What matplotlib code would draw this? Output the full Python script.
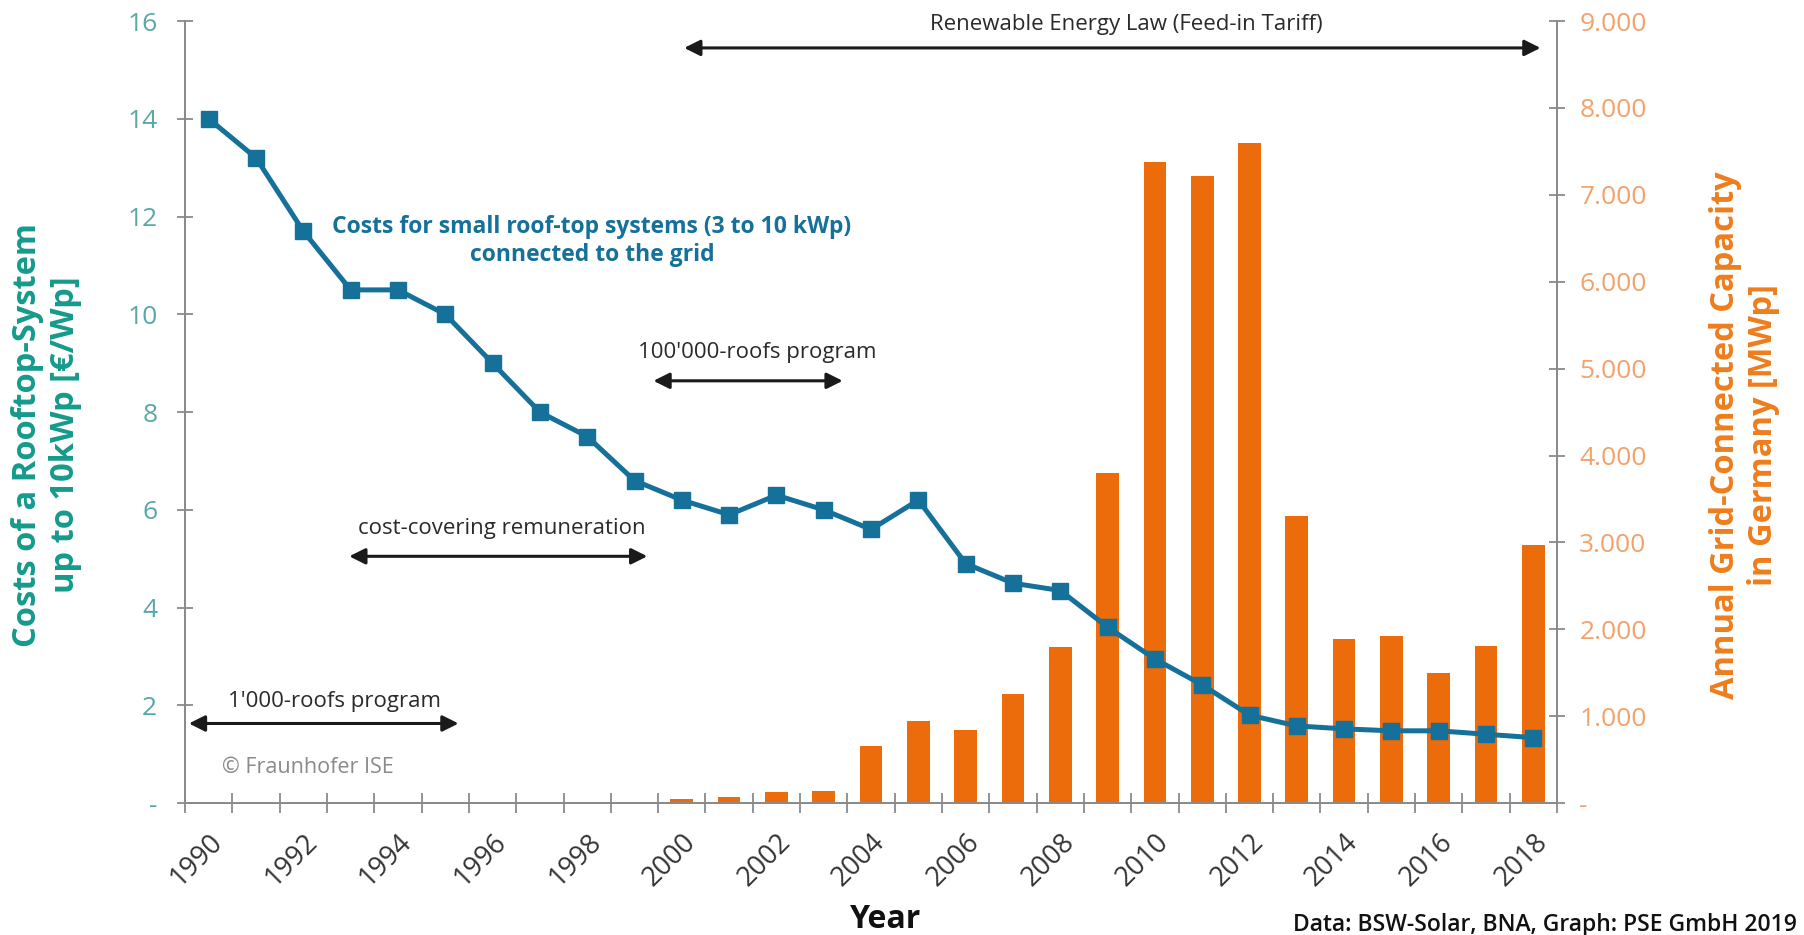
import numpy as np
import matplotlib
matplotlib.use("Agg")
import matplotlib.pyplot as plt
from matplotlib.ticker import FixedLocator, FuncFormatter

plt.rcParams['font.family'] = ['Open Sans', 'DejaVu Sans']

# data
years = list(range(1990, 2019))
cost_eur_wp = [14.0, 13.2, 11.7, 10.5, 10.5, 10.0, 9.0, 8.0, 7.5, 6.6,
               6.2, 5.9, 6.3, 6.0, 5.6, 6.2, 4.9, 4.5, 4.35, 3.6,
               2.95, 2.42, 1.8, 1.58, 1.52, 1.48, 1.48, 1.41, 1.34]
capacity_mw = [2, 2, 3, 4, 5, 6, 8, 10, 10, 12,
               45, 75, 125, 140, 660, 950, 840, 1260, 1800, 3800,
               7380, 7220, 7600, 3310, 1890, 1920, 1500, 1810, 2970]
year_labels = [str(y) for y in years[::2]]

line_col = '#15709a'
bar_col = '#ec6b0b'
spine_col = '#8a8a8a'

fig = plt.figure(figsize=(18.04, 9.35), dpi=100)
ax = fig.add_axes([0.1026, 0.141, 0.7605, 0.8365])
ax2 = ax.twinx()

x = np.arange(len(years))

# bars on the right axis, line on top
ax2.bar(x, capacity_mw, width=0.48, color=bar_col, zorder=2)
ax.plot(x, cost_eur_wp, color=line_col, lw=3.6, marker='s', markersize=12, zorder=3)
ax.set_zorder(ax2.get_zorder() + 1)
ax.patch.set_visible(False)

ax.set_xlim(-0.5, len(years) - 0.5)
ax.set_ylim(0, 16)
ax2.set_ylim(0, 9000)

# spines
for a in (ax, ax2):
    a.spines['top'].set_visible(False)
    for s in ('left', 'right', 'bottom'):
        a.spines[s].set_color(spine_col)
        a.spines[s].set_linewidth(1.3)

# left axis ticks
ax.yaxis.set_major_locator(FixedLocator(np.arange(0, 17, 2)))
ax.yaxis.set_major_formatter(FuncFormatter(lambda v, p: '-' if v == 0 else f'{v:.0f}'))
ax.tick_params(axis='y', direction='inout', length=12, width=1.3, color=spine_col,
               labelsize=19, labelcolor='#5aa7a8', pad=14)

# right axis ticks
ax2.yaxis.set_major_locator(FixedLocator(np.arange(0, 9001, 1000)))
ax2.yaxis.set_major_formatter(FuncFormatter(
    lambda v, p: '-' if v == 0 else f'{v:,.0f}'.replace(',', '.')))
ax2.tick_params(axis='y', direction='inout', length=12, width=1.3, color=spine_col,
                labelsize=19, labelcolor='#f2a26a', pad=10)

# x ticks: marks on year boundaries, labels every second year
ax.set_xticks(x[::2])
ax.set_xticklabels(year_labels, rotation=45, ha='right', va='top', rotation_mode='anchor')
ax.set_xticks(np.arange(-0.5, len(years), 1), minor=True)
ax.tick_params(axis='x', which='major', length=0, labelsize=19.5, labelcolor='#333333', pad=18)
ax.tick_params(axis='x', which='minor', direction='inout', length=14, width=1.3, color=spine_col)
ax2.tick_params(axis='x', length=0)

# axis labels
fig.text(0.026, 0.535, 'Costs of a Rooftop-System\nup to 10kWp [€/Wp]', rotation=90,
         ha='center', va='center', fontsize=23.5, fontweight='bold', color='#159a8c',
         linespacing=1.2)
fig.text(0.967, 0.535, 'Annual Grid-Connected Capacity\nin Germany [MWp]', rotation=90,
         ha='center', va='center', fontsize=23.5, fontweight='bold', color='#ee7d1c',
         linespacing=1.2)
fig.text(0.491, 0.008, 'Year', ha='center', va='baseline', fontsize=23, fontweight='bold',
         color='#111111')
fig.text(0.996, 0.004, 'Data: BSW-Solar, BNA, Graph: PSE GmbH 2019', ha='right',
         va='baseline', fontsize=16.5, fontweight='semibold', color='#111111')

# annotations with double arrows
arrow = dict(arrowstyle='<|-|>', color='#1a1a1a', lw=2.2, mutation_scale=24,
             shrinkA=0, shrinkB=0)
programs = [
    ('Renewable Energy Law (Feed-in Tariff)', 10.05, 28.15, 15.45, 19.4, 15.93),
    ("100'000-roofs program", 9.4, 13.4, 8.64, 11.6, 9.22),
    ('cost-covering remuneration', 2.97, 9.27, 5.05, 6.2, 5.62),
    ("1'000-roofs program", -0.42, 5.28, 1.63, 2.66, 2.07),
]
for label, x0, x1, ya, xt, yt in programs:
    ax.annotate('', xy=(x1, ya), xytext=(x0, ya), arrowprops=arrow)
    ax.text(xt, yt, label, ha='center', va='center', fontsize=16, color='#2a2a2a')

ax.text(8.1, 11.5, 'Costs for small roof-top systems (3 to 10 kWp)\nconnected to the grid',
        ha='center', va='center', fontsize=16.5, fontweight='bold', color=line_col,
        linespacing=1.2)
ax.text(0.27, 0.73, '© Fraunhofer ISE', ha='left', va='center', fontsize=15.5,
        color='#8a8a8a')

fig.savefig('out.png', dpi=100)
